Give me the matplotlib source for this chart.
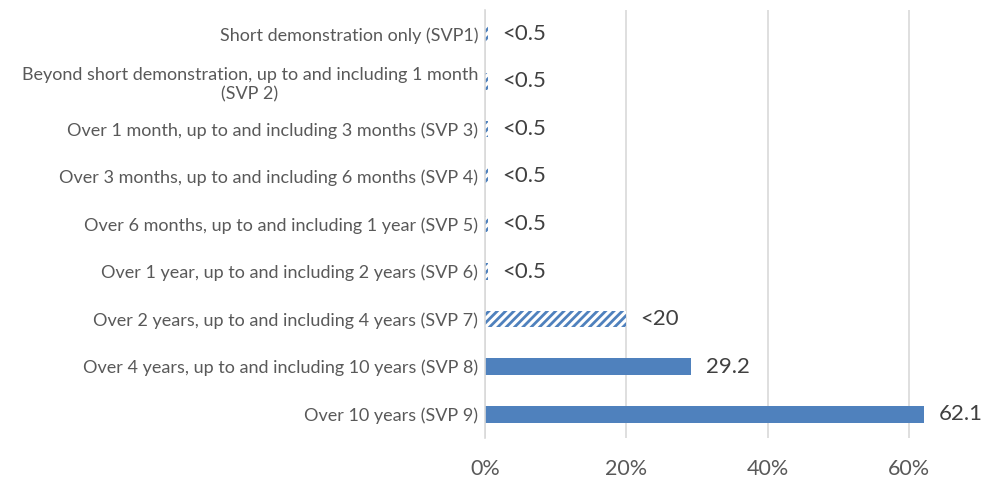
import matplotlib
matplotlib.use("Agg")
import matplotlib.pyplot as plt

plt.rcParams['font.family'] = ['Lato', 'DejaVu Sans']
plt.rcParams['hatch.linewidth'] = 2.0

categories = [
    "Short demonstration only (SVP1)",
    "Beyond short demonstration, up to and including 1 month\n(SVP 2)",
    "Over 1 month, up to and including 3 months (SVP 3)",
    "Over 3 months, up to and including 6 months (SVP 4)",
    "Over 6 months, up to and including 1 year (SVP 5)",
    "Over 1 year, up to and including 2 years (SVP 6)",
    "Over 2 years, up to and including 4 years (SVP 7)",
    "Over 4 years, up to and including 10 years (SVP 8)",
    "Over 10 years (SVP 9)",
]
values = [0.4, 0.4, 0.4, 0.4, 0.4, 0.4, 20, 29.2, 62.1]
labels = ["<0.5", "<0.5", "<0.5", "<0.5", "<0.5", "<0.5", "<20", "29.2", "62.1"]
hatched = [True, True, True, True, True, True, True, False, False]
xticks = [0, 20, 40, 60]
xticklabels = ["0%", "20%", "40%", "60%"]

blue = "#4F81BD"
fig = plt.figure(figsize=(9.97, 4.79), dpi=100)
ax = fig.add_axes([485/997, 1 - 438/479, (980-485)/997, (438-10)/479])

ypos = list(range(len(categories)))
for y, v, h in zip(ypos, values, hatched):
    if h:
        ax.barh(y, v, height=0.35, color="white", edgecolor=blue, hatch="////", linewidth=0)
    else:
        ax.barh(y, v, height=0.35, color=blue, linewidth=0)

for y, v, lab in zip(ypos, values, labels):
    ax.text(v + 2.0, y, lab, va="center", ha="left", fontsize=16, color="#404040")

ax.set_ylim(len(categories) - 0.5, -0.5)
ax.set_xlim(0, 70)
ax.set_yticks(ypos)
ax.set_yticklabels(categories, fontsize=13, color="#595959", ha="right",
                   multialignment="center", linespacing=1.3)
ax.tick_params(axis="y", length=0, pad=5)

ax.set_xticks(xticks)
ax.set_xticklabels(xticklabels, fontsize=15.5, color="#595959")
ax.tick_params(axis="x", length=0, pad=15)
ax.xaxis.grid(True, color="#D9D9D9", linewidth=1.2)
ax.set_axisbelow(True)
for s in ["top", "right", "bottom"]:
    ax.spines[s].set_visible(False)
ax.spines["left"].set_color("#D9D9D9")
ax.spines["left"].set_linewidth(1.2)

fig.savefig("out.png", dpi=100)
